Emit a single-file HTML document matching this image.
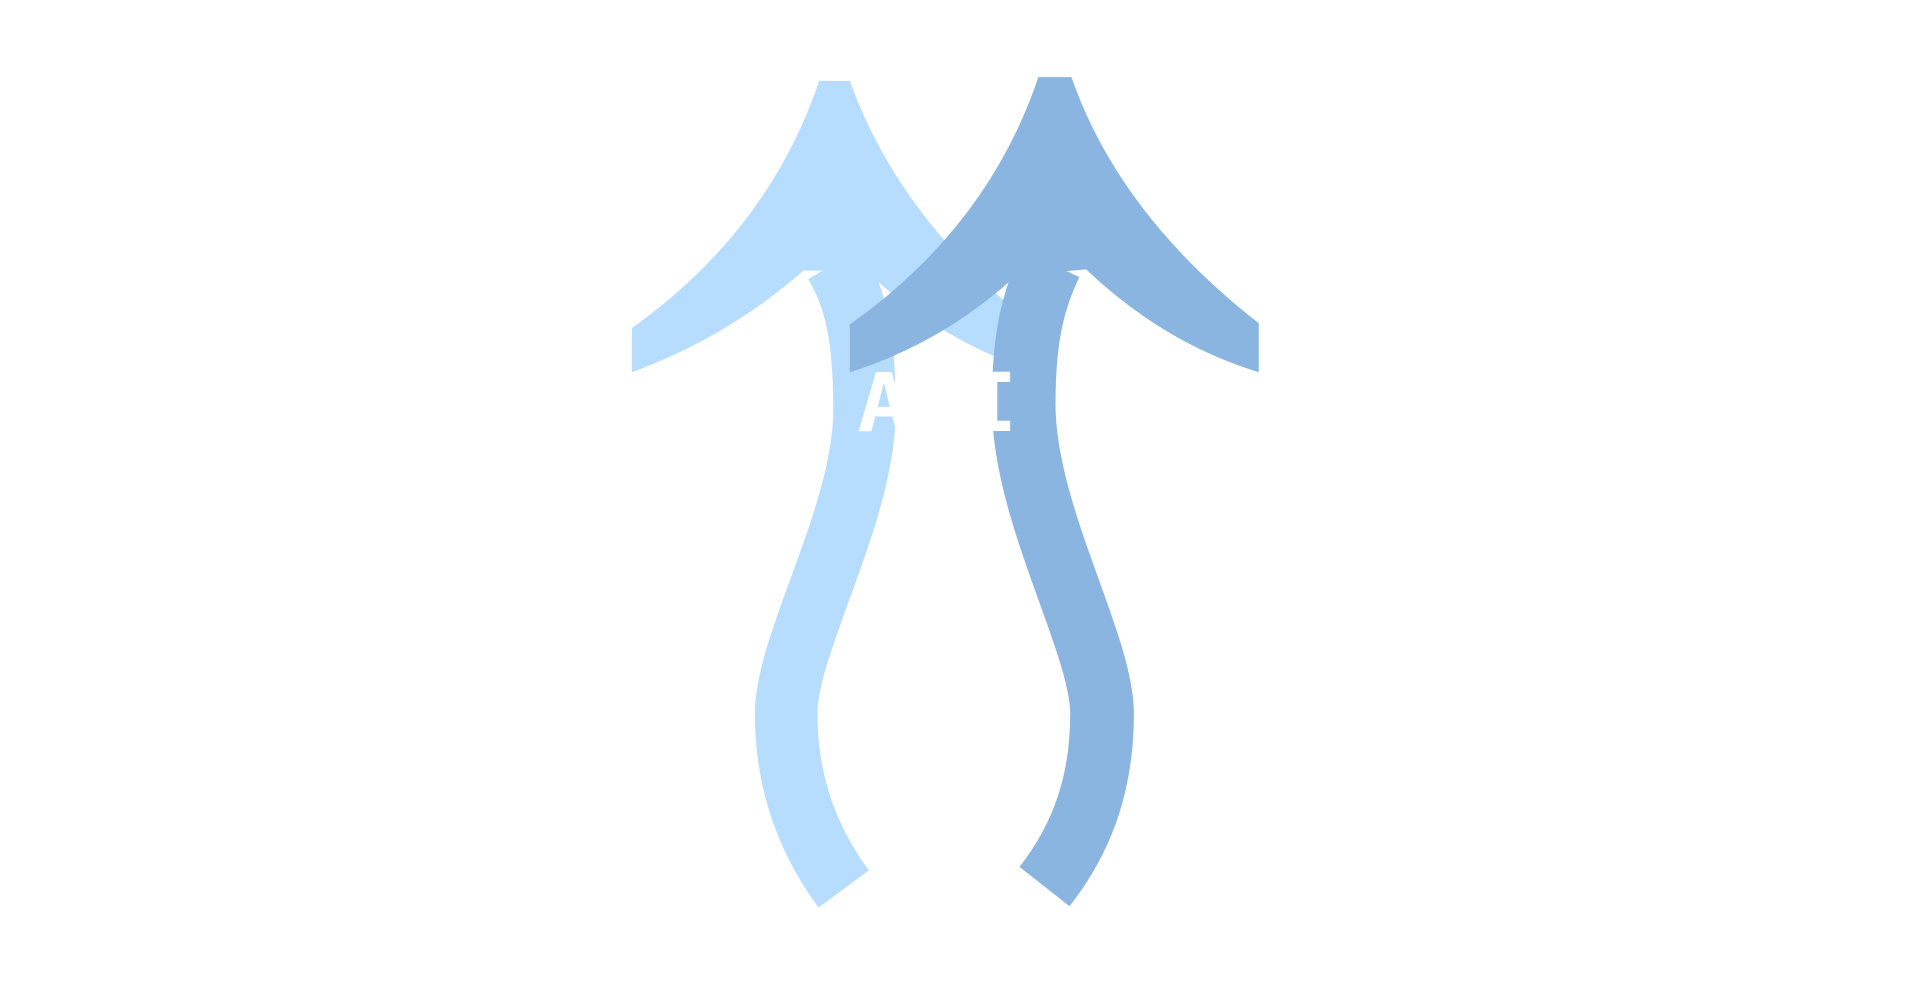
<!DOCTYPE html>
<html><head><meta charset="utf-8"><style>html,body{margin:0;padding:0;background:#fff;width:1920px;height:1000px;overflow:hidden}</style></head>
<body>
<svg width="1920" height="1000" viewBox="0 0 1568 816.67" preserveAspectRatio="none" xmlns="http://www.w3.org/2000/svg">
<rect width="1568" height="817" fill="#fff"/>
<path fill="#b6dcfe" d="M669,66 L694,66 Q735,180 847,268 L847,304 Q770,280 707,221 L656,221 Q595,275 516,304 L516,268 Q628,188 669,66 Z"/>
<path d="M689,726 C658,684 642,636 642,583 C642,525 706,420 706,335 C706,272 698,242 682,215" fill="none" stroke="#b6dcfe" stroke-width="51"/>
<path d="M853,724 C886,682 900,636 900,583 C900,525 836,420 836,330 C836,272 845,242 858,215" fill="none" stroke="#8ab5e0" stroke-width="52"/>
<path fill="#8ab5e0" d="M848,63 L875,63 Q914,175 1028,264 L1028,304 Q950,280 887,220 L830,225 Q770,280 694,304 L694,265 Q807,185 848,63 Z"/>
<text x="700" y="352" textLength="131" lengthAdjust="spacingAndGlyphs" font-family="DejaVu Sans Mono, Liberation Mono, monospace" font-weight="bold" font-size="66" fill="#fff">API</text>
</svg>
</body></html>
